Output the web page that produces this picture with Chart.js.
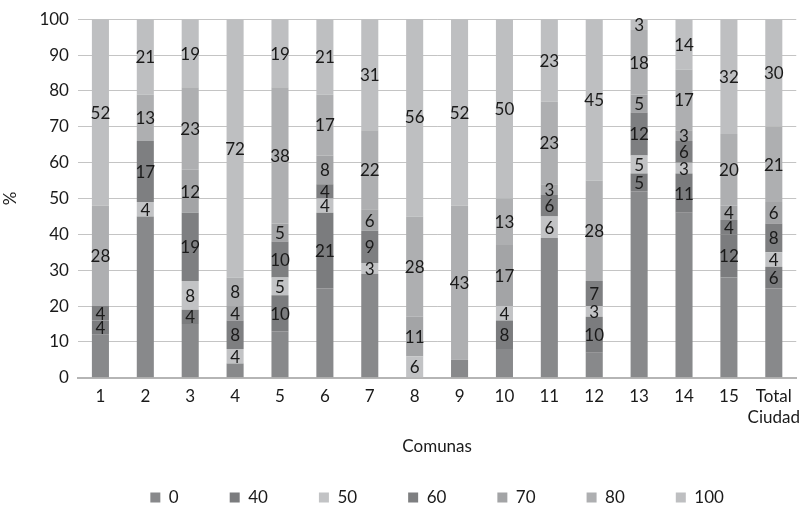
<!DOCTYPE html>
<html>
<head>
<meta charset="utf-8">
<script src="https://cdn.jsdelivr.net/npm/chart.js@4"></script>
<style>
  html, body { margin: 0; padding: 0; background: #fff; }
  #wrap { width: 809px; height: 508px; }
</style>
</head>
<body>
<div id="wrap"><canvas id="grafico"></canvas></div>
<script>
// datos
const comunas = ['1', '2', '3', '4', '5', '6', '7', '8', '9', '10', '11', '12', '13', '14', '15', ['Total', 'Ciudad']];
const series = ['0', '40', '50', '60', '70', '80', '100'];
const v0 = [12, 45, 15, 4, 13, 25, 29, 0, 5, 8, 39, 7, 52, 46, 28, 25];
const v40 = [4, 0, 4, 0, 10, 21, 0, 0, 0, 8, 0, 10, 5, 11, 12, 6];
const v50 = [0, 4, 8, 4, 5, 4, 3, 6, 0, 4, 6, 3, 5, 3, 0, 4];
const v60 = [4, 17, 19, 8, 10, 4, 9, 0, 0, 0, 6, 7, 12, 6, 4, 8];
const v70 = [0, 0, 12, 4, 5, 8, 6, 11, 0, 17, 3, 0, 5, 3, 4, 6];
const v80 = [28, 13, 23, 8, 38, 17, 22, 28, 43, 13, 23, 28, 18, 17, 20, 21];
const v100 = [52, 21, 19, 72, 19, 21, 31, 56, 52, 50, 23, 45, 3, 14, 32, 30];
const yTicks = [0, 10, 20, 30, 40, 50, 60, 70, 80, 90, 100];

const valores = [v0, v40, v50, v60, v70, v80, v100];
const colores = ['#88898b', '#7b7c7e', '#c2c3c5', '#7e7f81', '#a3a4a6', '#aeafb1', '#bebfc1'];

const fuente = 'Lato, "Open Sans", sans-serif';
const sepLeyenda = 51; // separacion horizontal entre items

// etiquetas dentro de las barras (la serie 0 no lleva etiqueta)
const etiquetas = {
    id: 'etiquetas',
    afterDatasetsDraw(chart) {
        const ctx = chart.ctx;
        ctx.save();
        ctx.font = '17px ' + fuente;
        ctx.fillStyle = '#1a1a1a';
        ctx.textAlign = 'center';
        ctx.textBaseline = 'middle';
        chart.data.datasets.forEach(function (ds, i) {
            if (i === 0) return;
            const meta = chart.getDatasetMeta(i);
            meta.data.forEach(function (bar, j) {
                const v = ds.data[j];
                if (!v) return;
                ctx.fillText(String(v), bar.x, (bar.y + bar.base) / 2 + 1);
            });
        });
        ctx.restore();
    }
};

// la leyenda usa el mismo padding en horizontal y vertical; aqui se achica el vertical
const leyendaBaja = {
    id: 'leyendaBaja',
    beforeUpdate(chart) {
        const lg = chart.legend;
        if (!lg || lg._ajustada) return;
        lg._ajustada = true;
        const fit0 = lg.fit, draw0 = lg.draw;
        lg.fit = function () {
            fit0.call(this);
            this.height = 27;
        };
        lg.draw = function () {
            const t = this.top;
            this.top = t - (sepLeyenda - 8);
            draw0.call(this);
            this.top = t;
        };
    }
};

const ctx = document.getElementById('grafico').getContext('2d');
const grafico = new Chart(ctx, {
    type: 'bar',
    data: {
        labels: comunas,
        datasets: series.map(function (s, i) {
            return {
                label: s,
                data: valores[i],
                backgroundColor: colores[i],
                borderWidth: 0,
                categoryPercentage: 1,
                barPercentage: 0.38
            };
        })
    },
    options: {
        responsive: true,
        maintainAspectRatio: false,
        animation: false,
        layout: { padding: { top: 0, right: 0, left: 0, bottom: 0 } },
        plugins: {
            tooltip: { enabled: false },
            legend: {
                position: 'bottom',
                fullSize: false,
                labels: {
                    boxWidth: 10,
                    boxHeight: 10,
                    padding: sepLeyenda,
                    color: '#1a1a1a',
                    font: { family: fuente, size: 17 }
                }
            }
        },
        scales: {
            x: {
                stacked: true,
                grid: { display: false, drawTicks: false },
                border: { color: '#b5b5b5', width: 2 },
                ticks: { color: '#1a1a1a', padding: 9, maxRotation: 0, autoSkip: false, font: { family: fuente, size: 17 } },
                title: {
                    display: true,
                    text: 'Comunas',
                    color: '#1a1a1a',
                    font: { family: fuente, size: 17 },
                    padding: { top: 0, bottom: 24 }
                }
            },
            y: {
                stacked: true,
                min: 0,
                max: 100,
                afterBuildTicks(axis) { axis.ticks = yTicks.map(function (v) { return { value: v }; }); },
                grid: { color: '#c4c4c4', lineWidth: 1, drawTicks: false },
                border: { display: false },
                ticks: { color: '#1a1a1a', padding: 9, font: { family: fuente, size: 17 } },
                title: {
                    display: true,
                    text: '%',
                    color: '#1a1a1a',
                    font: { family: fuente, size: 17 },
                    padding: { top: 0, bottom: 10 }
                }
            }
        }
    },
    plugins: [etiquetas, leyendaBaja]
});
</script>
</body>
</html>
